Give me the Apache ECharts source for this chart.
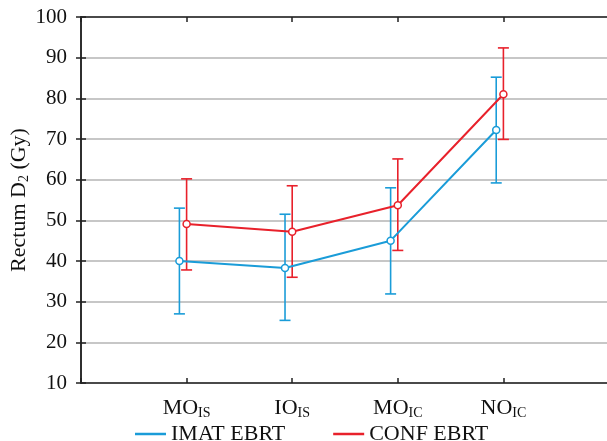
<!DOCTYPE html>
<html>
<head>
<meta charset="utf-8">
<script src="https://cdn.jsdelivr.net/npm/echarts@6/dist/echarts.min.js"></script>
<style>html,body{margin:0;padding:0;background:#fff}#main{width:607px;height:441px}</style>
</head>
<body>
<div id="main"></div>
<script>
// categories (main text + subscript)
var categories = [['MO', 'IS'], ['IO', 'IS'], ['MO', 'IC'], ['NO', 'IC']];
var yTicks = [10, 20, 30, 40, 50, 60, 70, 80, 90, 100];

// IMAT EBRT: mean and error bar limits
var imatMean = [40.0, 38.3, 45.0, 72.2];
var imatLow = [27.0, 25.4, 31.9, 59.2];
var imatHigh = [53.0, 51.5, 58.0, 85.2];

// CONF EBRT: mean and error bar limits
var confMean = [49.1, 47.2, 53.7, 81.0];
var confLow = [37.8, 36.0, 42.6, 69.9];
var confHigh = [60.2, 58.5, 65.1, 92.4];

var blue = '#1a9cd8';
var red = '#e8212b';
var font = 'Liberation Serif';
var imatShift = -0.068;

function pts(mean, shift) {
    return mean.map(function (v, i) { return [i + 1 + shift, v]; });
}
function bars(lo, hi, shift) {
    return lo.map(function (v, i) { return [i + 1 + shift, v, hi[i]]; });
}
function errorBar(color) {
    return function (params, api) {
        var x = api.value(0);
        var a = api.coord([x, api.value(1)]);
        var b = api.coord([x, api.value(2)]);
        var w = 5.5;
        var st = { stroke: color, lineWidth: 1.6 };
        return {
            type: 'group',
            children: [
                { type: 'line', shape: { x1: a[0], y1: a[1], x2: b[0], y2: b[1] }, style: st },
                { type: 'line', shape: { x1: a[0] - w, y1: a[1], x2: a[0] + w, y2: a[1] }, style: st },
                { type: 'line', shape: { x1: b[0] - w, y1: b[1], x2: b[0] + w, y2: b[1] }, style: st }
            ]
        };
    };
}

var myChart = echarts.init(document.getElementById('main'));

var axisLine = { show: true, lineStyle: { color: '#222', width: 1.5 } };
var tick = { show: true, inside: true, length: 5, lineStyle: { color: '#222', width: 1.5 } };

var option = {
    animation: false,
    grid: { left: 81, width: 528, top: 17, bottom: 58, outerBoundsMode: 'none' },
    legend: {
        left: 130, top: 418,
        itemWidth: 31, itemHeight: 2.5, itemGap: 48,
        icon: 'rect',
        textStyle: { fontFamily: font, fontSize: 22, color: '#111' },
        data: [
            { name: 'IMAT EBRT', itemStyle: { color: blue } },
            { name: 'CONF EBRT', itemStyle: { color: red } }
        ]
    },
    xAxis: [
        {
            type: 'value', min: 0, max: 5, interval: 1,
            axisLine: axisLine, axisTick: tick, splitLine: { show: false },
            axisLabel: {
                margin: 14,
                formatter: function (v) {
                    var c = categories[v - 1];
                    return c ? '{m|' + c[0] + '}{s|' + c[1] + '}' : '';
                },
                rich: {
                    m: { fontFamily: font, fontSize: 22, color: '#111' },
                    s: { fontFamily: font, fontSize: 14, color: '#111', padding: [9, 0, 0, 0] }
                }
            }
        },
        {
            type: 'value', position: 'top', min: 0, max: 5, interval: 1,
            axisLine: axisLine, axisTick: tick, splitLine: { show: false },
            axisLabel: { show: false }
        }
    ],
    yAxis: [
        {
            type: 'value', min: yTicks[0], max: yTicks[yTicks.length - 1], interval: 10,
            axisLine: axisLine, axisTick: tick,
            splitLine: { show: true, lineStyle: { color: '#b4b4b4', width: 1.5 } },
            axisLabel: { margin: 14, fontFamily: font, fontSize: 21, color: '#111' },
            name: '{a|Rectum D}{b|2}{a| (Gy)}',
            nameLocation: 'middle',
            nameGap: 50,
            nameMoveOverlap: false,
            nameTextStyle: {
                rich: {
                    a: { fontFamily: font, fontSize: 22, color: '#111' },
                    b: { fontFamily: font, fontSize: 14, color: '#111', padding: [9, 0, 0, 0] }
                }
            }
        },
        {
            type: 'value', position: 'right', min: 10, max: 100, interval: 10,
            axisLine: axisLine, axisTick: tick, splitLine: { show: false },
            axisLabel: { show: false }
        }
    ],
    series: [
        {
            name: 'CONF EBRT', type: 'custom', renderItem: errorBar(red),
            data: bars(confLow, confHigh, 0), z: 2, silent: true
        },
        {
            name: 'IMAT EBRT', type: 'custom', renderItem: errorBar(blue),
            data: bars(imatLow, imatHigh, imatShift), z: 2, silent: true
        },
        {
            name: 'CONF EBRT', type: 'line', data: pts(confMean, 0),
            symbol: 'circle', symbolSize: 7, z: 3,
            itemStyle: { color: '#fff', borderColor: red, borderWidth: 1.5 },
            lineStyle: { color: red, width: 2 }
        },
        {
            name: 'IMAT EBRT', type: 'line', data: pts(imatMean, imatShift),
            symbol: 'circle', symbolSize: 7, z: 3,
            itemStyle: { color: '#fff', borderColor: blue, borderWidth: 1.5 },
            lineStyle: { color: blue, width: 2 }
        }
    ]
};

myChart.setOption(option);
</script>
</body>
</html>
